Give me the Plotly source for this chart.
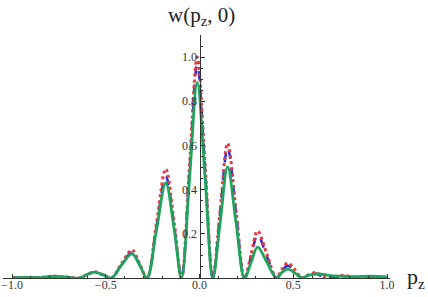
import plotly.graph_objects as go

# momentum values p_z (shared grid for all three curves)
pz = [-1.0, -0.92, -0.85, -0.775, -0.71, -0.64, -0.60, -0.56, -0.515, -0.47,
      -0.415, -0.36, -0.32, -0.28, -0.23, -0.18, -0.135, -0.096, -0.054, -0.012,
      0.03, 0.071, 0.11, 0.15, 0.195, 0.24, 0.275, 0.31, 0.36, 0.41,
      0.44, 0.47, 0.51, 0.545, 0.58, 0.62, 0.65, 0.69, 0.76, 0.83, 0.91, 1.0]

w_green = [0.002, 0.003, 0.002, 0.008, 0.004, 0.0, 0.016, 0.027, 0.015, 0.0,
           0.06, 0.109, 0.06, 0.0, 0.215, 0.43, 0.22, 0.0, 0.44, 0.884,
           0.45, 0.0, 0.25, 0.503, 0.25, 0.0, 0.07, 0.14, 0.07, 0.0,
           0.025, 0.04, 0.022, 0.0, 0.012, 0.018, 0.018, 0.012, 0.008, 0.006, 0.008, 0.005]

w_blue = [0.002, 0.003, 0.003, 0.007, 0.004, 0.0, 0.015, 0.026, 0.014, 0.0,
          0.062, 0.117, 0.062, 0.0, 0.23, 0.46, 0.235, 0.0, 0.48, 0.966,
          0.49, 0.0, 0.295, 0.59, 0.295, 0.0, 0.097, 0.195, 0.097, 0.0,
          0.035, 0.055, 0.03, 0.0, 0.012, 0.02, 0.008, 0.0, 0.008, 0.002, 0.005, 0.002]

w_red = [0.002, 0.003, 0.003, 0.008, 0.004, 0.0, 0.016, 0.028, 0.015, 0.0,
         0.066, 0.127, 0.066, 0.0, 0.245, 0.494, 0.25, 0.0, 0.5, 1.0,
         0.51, 0.0, 0.305, 0.61, 0.305, 0.0, 0.106, 0.213, 0.106, 0.0,
         0.04, 0.068, 0.036, 0.0, 0.014, 0.025, 0.012, 0.0, 0.012, 0.003, 0.006, 0.002]

x_tickvals = [-1.0, -0.5, 0.0, 0.5, 1.0]
x_ticktext = ["\u22121.0", "\u22120.5", "0.0", "0.5", "1.0"]
y_tickvals = [0.2, 0.4, 0.6, 0.8, 1.0]
y_ticktext = ["0.2", "0.4", "0.6", "0.8", "1.0"]

fig = go.Figure()
fig.add_trace(go.Scatter(x=pz, y=w_blue, mode="lines", line_shape="spline",
                         line=dict(color="#2a2ad2", width=2.5, dash="dash"), showlegend=False))
fig.add_trace(go.Scatter(x=pz, y=w_red, mode="lines", line_shape="spline",
                         line=dict(color="#e8383d", width=3, dash="dot"), showlegend=False))
fig.add_trace(go.Scatter(x=pz, y=w_green, mode="lines", line_shape="spline",
                         line=dict(color="#1fa35c", width=2.8), showlegend=False))

xmin, xmax = -1.048, 1.016
fig.update_layout(
    template="none",
    width=428, height=297,
    margin=dict(l=3, r=38, t=35, b=19),
    paper_bgcolor="white", plot_bgcolor="white",
    font=dict(family="Liberation Serif", size=12, color="#333333"),
    xaxis=dict(range=[xmin, xmax], showgrid=False, zeroline=False, automargin=False,
               showline=True, linecolor="#333333", linewidth=1,
               tickvals=x_tickvals, ticktext=x_ticktext,
               ticks="inside", ticklen=4, tickcolor="#333333", ticklabelstandoff=-4,
               minor=dict(tick0=0, dtick=0.1, ticks="inside", ticklen=2, tickcolor="#333333"),
               tickfont=dict(family="Liberation Serif", size=12, color="#333333")),
    yaxis=dict(range=[0, 1.1], showgrid=False, zeroline=False, automargin=False,
               showline=True, linecolor="#333333", linewidth=1,
               anchor="free", position=(0 - xmin) / (xmax - xmin),
               tickvals=y_tickvals, ticktext=y_ticktext,
               ticks="inside", ticklen=4, tickcolor="#333333",
               minor=dict(tick0=0, dtick=0.05, ticks="inside", ticklen=2, tickcolor="#333333"),
               tickfont=dict(family="Liberation Serif", size=12, color="#333333")),
    annotations=[
        dict(text="w(p<sub>z</sub>, 0)", xref="paper", yref="paper",
             x=(201 - 3) / 387, y=1.0 + (35 - 16) / 243, xanchor="center", yanchor="middle",
             showarrow=False, font=dict(family="Liberation Serif", size=21, color="#222222")),
        dict(text="p<sub>z</sub>", xref="paper", yref="paper",
             x=(405 - 3) / 387, y=0.0, xanchor="left", yanchor="middle",
             showarrow=False, font=dict(family="Liberation Serif", size=22, color="#222222")),
    ],
)

fig.write_html("out.html", config={"displayModeBar": False},
               post_script="document.body.style.margin='0';")
